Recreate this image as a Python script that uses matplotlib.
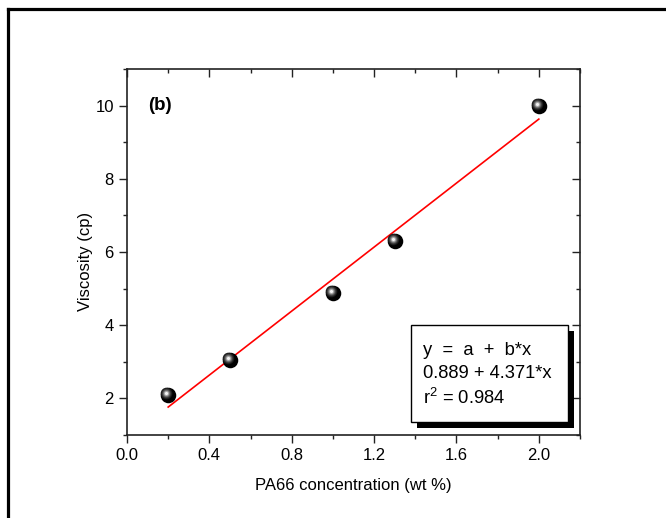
import matplotlib.pyplot as plt
import matplotlib.transforms as mtransforms
from matplotlib.patches import Rectangle
from matplotlib.ticker import MultipleLocator
import numpy as np

plt.rcParams["font.family"] = ["Liberation Sans", "DejaVu Sans"]
plt.rcParams["mathtext.fontset"] = "custom"
plt.rcParams["mathtext.rm"] = "Liberation Sans"

concentration = [0.2, 0.5, 1.0, 1.3, 2.0]
viscosity = [2.09, 3.05, 4.88, 6.30, 9.98]

fit_intercept = 0.889
fit_slope = 4.371
fit_r2 = 0.984

x_ticks = [0.0, 0.4, 0.8, 1.2, 1.6, 2.0]
y_ticks = [2, 4, 6, 8, 10]


def draw_spheres(ax, xs, ys):
    # shaded ball markers: black body, soft highlight shifted up-left
    fig = ax.figure
    ax.scatter(xs, ys, s=125, color="black", zorder=4, linewidths=0)
    shift = mtransforms.offset_copy(ax.transData, fig=fig, x=-1.5, y=1.5, units="points")
    shades = [(70, "#1c1c1c"), (46, "#3c3c3c"), (28, "#6c6c6c"), (14, "#aaaaaa"), (5, "#f2f2f2")]
    for size, shade in shades:
        ax.scatter(xs, ys, s=size, color=shade, zorder=5, linewidths=0, transform=shift)


def main():
    fig = plt.figure(figsize=(6.66, 5.18), dpi=100)

    # outer frame (top and left edges)
    fig.add_artist(plt.Line2D([7.5 / 666, 1.0], [1 - 8.5 / 518, 1 - 8.5 / 518],
                              transform=fig.transFigure, color="black", lw=2.3))
    fig.add_artist(plt.Line2D([7.5 / 666, 7.5 / 666], [1 - 8.5 / 518, 0.0],
                              transform=fig.transFigure, color="black", lw=2.3))

    ax = fig.add_axes([127 / 666, 83 / 518, 453 / 666, 366 / 518])

    fit_x = np.array([concentration[0], concentration[-1]])
    fit_y = fit_intercept + fit_slope * fit_x
    ax.plot(fit_x, fit_y, color="red", lw=1.2, zorder=3)
    draw_spheres(ax, concentration, viscosity)

    ax.set_xlim(0, 2.2)
    ax.set_ylim(1, 11)
    ax.set_xticks(x_ticks)
    ax.set_xticklabels([f"{t:.1f}" for t in x_ticks])
    ax.set_yticks(y_ticks)
    ax.xaxis.set_minor_locator(MultipleLocator(0.2))
    ax.yaxis.set_minor_locator(MultipleLocator(1))

    for side in ax.spines.values():
        side.set_linewidth(1.2)
        side.set_color("#222222")

    ax.tick_params(which="both", top=True, right=True, labelsize=12, colors="#222222",
                   width=1.0)
    ax.tick_params(which="major", length=5.5, pad=4)
    ax.tick_params(which="minor", length=3)
    ax.tick_params(axis="x", which="both", direction="out")
    ax.tick_params(axis="y", which="both", direction="out")
    # opposite axes carry inward ticks
    for tick in ax.xaxis.get_major_ticks() + ax.xaxis.get_minor_ticks():
        tick.tick2line.set_marker(3)
    for tick in ax.yaxis.get_major_ticks() + ax.yaxis.get_minor_ticks():
        tick.tick2line.set_marker(0)
    for label in ax.get_xticklabels() + ax.get_yticklabels():
        label.set_color("black")

    ax.set_xlabel("PA66 concentration (wt %)", fontsize=12, labelpad=11)
    ax.set_ylabel("Viscosity (cp)", fontsize=12)
    ax.yaxis.set_label_coords(-0.076, 0.473)

    ax.text(0.105, 10.0, "(b)", fontsize=13.5, fontweight="bold", va="center", ha="left")

    # fit summary box with drop shadow
    box_x0, box_y0 = 410.5 / 666, (518 - 422) / 518
    box_w, box_h = 157.5 / 666, 97.5 / 518
    fig.add_artist(Rectangle((box_x0 + 6 / 666, box_y0 - 6 / 518), box_w, box_h,
                             transform=fig.transFigure, facecolor="black",
                             edgecolor="black", lw=0, zorder=6))
    fig.add_artist(Rectangle((box_x0, box_y0), box_w, box_h,
                             transform=fig.transFigure, facecolor="white",
                             edgecolor="black", lw=1.0, zorder=7))
    lines = [
        "y  =  a  +  b*x",
        f"{fit_intercept:.3f} + {fit_slope:.3f}*x",
        rf"r$^2$ = {fit_r2:.3f}",
    ]
    baselines = [355, 378, 404]
    for text, base in zip(lines, baselines):
        fig.text(423 / 666, 1 - base / 518, text, fontsize=13.2, ha="left",
                 va="baseline", zorder=8)

    fig.savefig("out.png", dpi=100)


if __name__ == "__main__":
    main()
